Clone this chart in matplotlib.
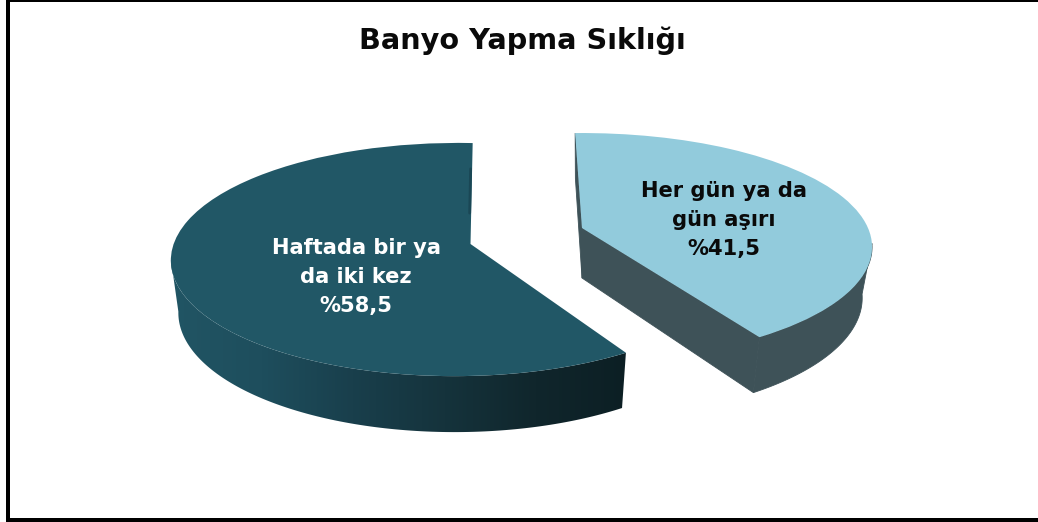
import numpy as np
import matplotlib
matplotlib.use("Agg")
import matplotlib.pyplot as plt
from matplotlib.colors import LinearSegmentedColormap
from matplotlib.patches import Polygon, Rectangle
from matplotlib.transforms import Transform

title = "Banyo Yapma Sıklığı"
categories = ["Her gün ya da\ngün aşırı", "Haftada bir ya\nda iki kez"]
values = [41.5, 58.5]
value_labels = ["%41,5", "%58,5"]

TOP_LIGHT = "#92CBDC"
SIDE_LIGHT = "#3E5258"
TOP_DARK = "#215766"
GRAD_DARK = ["#215564", "#1E4E5D", "#193F4C", "#15333C", "#10262C", "#0C1F24"]

plt.rcParams["font.family"] = ["DejaVu Sans"]


class Persp(Transform):
    """Projective view of the flat unit pie, with pixel coordinates as output."""
    input_dims = output_dims = 2
    is_affine = False
    has_inverse = False

    def __init__(self, x0, y0, A, B, k, m=0.0, rot=0.0, sx=1.0, dy=0.0, sy=1.0):
        super().__init__()
        self.p = (x0, y0, A, B, k, m, np.deg2rad(rot), sx, dy, sy)

    def transform_non_affine(self, values):
        x0, y0, A, B, k, m, r, sx, dy, sy = self.p
        values = np.asarray(values, float)
        u0, v0 = values[:, 0], values[:, 1]
        u = u0 * np.cos(r) - v0 * np.sin(r)
        v = u0 * np.sin(r) + v0 * np.cos(r)
        den = 1 + k * v + m * u
        return np.column_stack([x0 + sx * A * u / den, y0 + dy - sy * B * v / den])


fig = plt.figure(figsize=(10.38, 5.22), dpi=100, facecolor="white")
ax = fig.add_axes([0, 0, 1, 1])

wedges, _ = ax.pie(values, startangle=91.6, counterclock=False,
                   colors=[TOP_LIGHT, TOP_DARK], radius=1, center=(0, 0))
light, dark = wedges

ax.set_aspect("auto")
ax.set_xlim(0, 1038)
ax.set_ylim(522, 0)
ax.axis("off")

L_top = Persp(582, 228, 286, 110.8, 0.1667)
L_low = Persp(582, 228, 286, 110.8, 0.1667, sx=0.966, dy=50, sy=1.05)
D_par = dict(x0=470.5, y0=244, A=282, B=114.4, k=0.133, m=0.05, rot=-2.1)
D_top = Persp(**D_par)
D_low = Persp(**D_par, sx=0.975, dy=52, sy=1.03)

light.set_transform(L_top + ax.transData)
dark.set_transform(D_top + ax.transData)
light.set_zorder(5)
dark.set_zorder(5)


def pts(tr, deg, r=1.0):
    a = np.deg2rad(np.atleast_1d(deg))
    return tr.transform_non_affine(np.column_stack([r * np.cos(a), r * np.sin(a)]))


def shell(top, low, a, b):
    th = np.linspace(a, b, 120)
    return np.vstack([pts(top, th), pts(low, th[::-1])])


# light slice: outer wall and both cut faces
ax.add_patch(Polygon(shell(L_top, L_low, light.theta1, light.theta1 + 50),
                     facecolor=SIDE_LIGHT, edgecolor=SIDE_LIGHT, lw=0.6, zorder=2))
for ang in (light.theta1, light.theta2):
    face = np.vstack([pts(L_top, 0, 0), pts(L_top, ang), pts(L_low, ang), pts(L_low, 0, 0)])
    ax.add_patch(Polygon(face, facecolor=SIDE_LIGHT, edgecolor=SIDE_LIGHT, lw=0.6, zorder=2))

# dark slice: outer wall with a horizontal gradient
clip = Polygon(shell(D_top, D_low, dark.theta2, dark.theta2 - 113),
               facecolor="none", edgecolor="none", zorder=2)
ax.add_patch(clip)
cmap = LinearSegmentedColormap.from_list("wall", GRAD_DARK)
img = ax.imshow(np.linspace(0, 1, 256)[None, :], cmap=cmap, aspect="auto",
                extent=(170, 628, 440, 250), zorder=2, interpolation="bilinear")
img.set_clip_path(clip)
ax.set_xlim(0, 1038)
ax.set_ylim(522, 0)

# thin shaded sliver along the dark slice's far edge
rr = np.array([0.28, 0.72])
aa = np.deg2rad(dark.theta1)
edge = D_top.transform_non_affine(np.column_stack([rr * np.cos(aa), rr * np.sin(aa)]))
ax.plot(edge[:, 0] - 1.5, edge[:, 1], color="#1A4755", lw=2, zorder=6,
        solid_capstyle="round")

# frame
for xy, w, h in [((6, 0), 4, 522), ((6, 0), 1032, 2), ((6, 518), 1032, 4)]:
    ax.add_patch(Rectangle(xy, w, h, facecolor="black", edgecolor="none", zorder=8))

ax.text(522, 41, title, ha="center", va="center", fontsize=20.7, fontweight="bold",
        color="#0A0A0A", zorder=9)

positions = [(724, 220), (356, 277)]
colors = ["#0A0A0A", "white"]
for cat, lab, (x, y), c in zip(categories, value_labels, positions, colors):
    ax.text(x, y, cat + "\n" + lab, ha="center", va="center", fontsize=15.1,
            fontweight="bold", color=c, linespacing=1.55, zorder=9)

fig.savefig("out.png", dpi=100)
